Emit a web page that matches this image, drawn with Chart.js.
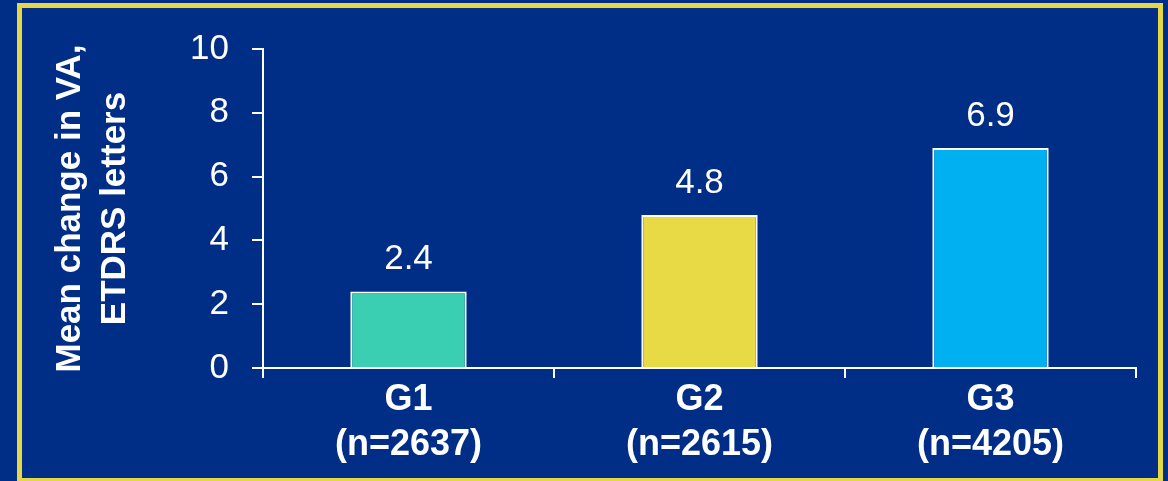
<!DOCTYPE html>
<html>
<head>
<meta charset="utf-8">
<script src="https://cdn.jsdelivr.net/npm/chart.js@4.4.1/dist/chart.umd.min.js"></script>
<style>
    html, body { margin: 0; padding: 0; background: #002E87; overflow: hidden; }
    #wrap { position: relative; width: 1168px; height: 481px; }
    #frame {
        position: absolute; left: 17px; top: 3px; width: 1146px; height: 480px;
        border: 5px solid #E5D745; box-sizing: border-box; pointer-events: none;
    }
    canvas { position: absolute; left: 0; top: 0; }
</style>
</head>
<body>
<div id="wrap">
    <canvas id="vaChart" width="1168" height="481"></canvas>
    <div id="frame"></div>
</div>
<script>
// ================= CHART DATA =================
const groups = ['G1', 'G2', 'G3'];
const sampleSizes = [2637, 2615, 4205];
const meanChange = [2.4, 4.8, 6.9];
const barColors = ['#3ACFB2', '#E8DA45', '#00B0F0'];
const yTicks = [0, 2, 4, 6, 8, 10];
const yTitle = ['Mean change in VA,', 'ETDRS letters'];

const FONT = "'Liberation Sans', Arial, sans-serif";
const WHITE = '#FFFFFF';

// value labels drawn on top of each bar
const valueLabels = {
    id: 'valueLabels',
    afterDatasetsDraw(chart) {
        const ctx = chart.ctx;
        const meta = chart.getDatasetMeta(0);
        ctx.save();
        ctx.fillStyle = WHITE;
        ctx.font = `35px ${FONT}`;
        ctx.textAlign = 'center';
        ctx.textBaseline = 'alphabetic';
        meta.data.forEach((bar, i) => {
            ctx.fillText(meanChange[i].toFixed(1), bar.x, bar.y - 22);
        });
        ctx.restore();
    }
};

const labels = groups.map((g, i) => [g, `(n=${sampleSizes[i]})`]);

new Chart(document.getElementById('vaChart'), {
    type: 'bar',
    data: {
        labels: labels,
        datasets: [{
            data: meanChange,
            backgroundColor: barColors,
            borderColor: WHITE,
            borderWidth: 2,
            barPercentage: 0.4,
            categoryPercentage: 1
        }]
    },
    options: {
        responsive: false,
        animation: false,
        layout: { padding: { top: 49, right: 32, bottom: 0, left: 0 } },
        plugins: { legend: { display: false }, tooltip: { enabled: false } },
        scales: {
            x: {
                offset: true,
                afterFit: (scale) => { scale.height = 113; },
                border: { display: true, color: WHITE, width: 2 },
                grid: {
                    offset: true, drawOnChartArea: false, drawTicks: true,
                    tickLength: 10, color: WHITE, lineWidth: 2
                },
                ticks: {
                    color: WHITE, padding: 0, maxRotation: 0,
                    font: { family: FONT, size: 36, weight: 'bold', lineHeight: '45px' }
                }
            },
            y: {
                min: 0,
                max: 10,
                afterFit: (scale) => { scale.width = 263; },
                afterBuildTicks: (scale) => { scale.ticks = yTicks.map(v => ({ value: v })); },
                border: { display: true, color: WHITE, width: 2 },
                grid: {
                    drawOnChartArea: false, drawTicks: true,
                    tickLength: 11, color: WHITE, lineWidth: 2
                },
                ticks: {
                    color: WHITE, padding: 23,
                    font: { family: FONT, size: 35 }
                },
                title: {
                    display: true,
                    text: yTitle,
                    color: WHITE,
                    padding: { top: 48, bottom: 0 },
                    font: { family: FONT, size: 35, weight: 'bold', lineHeight: '45px' }
                }
            }
        }
    },
    plugins: [valueLabels]
});
</script>
</body>
</html>
